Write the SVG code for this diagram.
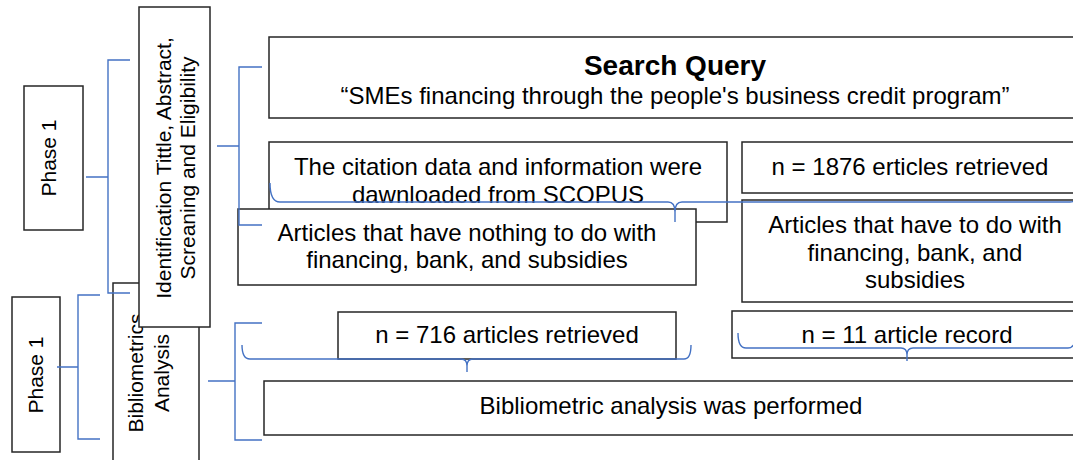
<svg xmlns="http://www.w3.org/2000/svg" width="1073" height="460" viewBox="0 0 1073 460">
  <style>
    .box { fill: #ffffff; stroke: #262626; stroke-width: 1.5; }
    .t { font-family: "Liberation Sans", Arial, sans-serif; fill: #000000; text-anchor: middle; }
    .body { font-size: 24px; }
    .side { font-size: 21px; }
    .title { font-size: 28px; font-weight: bold; }
    .link { fill: none; stroke: #4472C4; stroke-width: 1.4; }
  </style>
  <rect width="1073" height="460" fill="#ffffff"/>

  <!-- phase labels -->
  <g id="phase-1-top">
    <rect class="box" x="24" y="86" width="59" height="144"/>
    <text class="t side" transform="translate(56,158) rotate(-90)">Phase 1</text>
  </g>
  <g id="phase-1-bottom">
    <rect class="box" x="12" y="297" width="48" height="155"/>
    <text class="t side" transform="translate(43,375) rotate(-90)">Phase 1</text>
  </g>

  <!-- stage labels (bibliometrics sits under identification) -->
  <g id="stage-bibliometrics">
    <rect class="box" x="113" y="283" width="86" height="190"/>
    <text class="t side" transform="translate(143,373) rotate(-90)">Bibliometrics<tspan x="0" dy="26">Analysis</tspan></text>
  </g>
  <g id="stage-identification">
    <rect class="box" x="139" y="7" width="71" height="320"/>
    <text class="t side" transform="translate(171,168) rotate(-90)">Identification Tittle, Abstract,<tspan x="0" dy="24">Screaning and Eligibility</tspan></text>
  </g>

  <!-- search and screening steps -->
  <g id="search-query">
    <rect class="box" x="269" y="37" width="812" height="81"/>
    <text class="t title" x="675" y="75">Search Query</text>
    <text class="t body" x="675" y="104">“SMEs financing through the people's business credit program”</text>
  </g>
  <g id="download-scopus">
    <rect class="box" x="269" y="142" width="458" height="80"/>
    <text class="t body" x="498" y="175">The citation data and information were<tspan x="498" dy="27.5">dawnloaded from SCOPUS</tspan></text>
  </g>
  <g id="excluded-articles">
    <rect class="box" x="238" y="209" width="458" height="76"/>
    <text class="t body" x="467" y="241">Articles that have nothing to do with<tspan x="467" dy="27">financing, bank, and subsidies</tspan></text>
  </g>
  <g id="retrieved-1876">
    <rect class="box" x="742" y="142" width="336" height="51"/>
    <text class="t body" x="910" y="175">n = 1876 erticles retrieved</text>
  </g>
  <g id="included-articles">
    <rect class="box" x="742" y="200" width="346" height="102"/>
    <text class="t body" x="915" y="233">Articles that have to do with<tspan x="915" dy="27.5">financing, bank, and</tspan><tspan x="915" dy="27.5">subsidies</tspan></text>
  </g>

  <!-- bibliometric steps -->
  <g id="retrieved-716">
    <rect class="box" x="338" y="312" width="338" height="47"/>
    <text class="t body" x="507" y="343">n = 716 articles retrieved</text>
  </g>
  <g id="record-11">
    <rect class="box" x="732" y="311" width="350" height="47"/>
    <text class="t body" x="907" y="343">n = 11 article record</text>
  </g>
  <g id="analysis-performed">
    <rect class="box" x="264" y="381" width="816" height="54"/>
    <text class="t body" x="671" y="414">Bibliometric analysis was performed</text>
  </g>

  <!-- brackets and braces -->
  <g id="connectors" class="link">
    <path d="M86,177 H108 M130,60 H108 V293 H130"/>
    <path d="M57,367 H78 M100,295 H78 V439 H100"/>
    <path d="M217,146 H239 M262,67 H239 V225 H262"/>
    <path d="M208,381 H235 M262,323 H235 V440 H262"/>
    <path d="M270,183 Q270,202 280,202 H668 Q675,202 675,212 V222 M675,212 Q675,202 682,202 H1070 Q1080,202 1080,183"/>
    <path d="M242,345 Q242,359 250,359 H461 Q467,359 467,366 V372 M467,366 Q467,359 473,359 H684 Q691,359 691,345"/>
    <path d="M738,333 Q738,348 746,348 H901 Q907,348 907,355 V361 M907,355 Q907,348 913,348 H1068 Q1076,348 1076,333"/>
  </g>
</svg>
